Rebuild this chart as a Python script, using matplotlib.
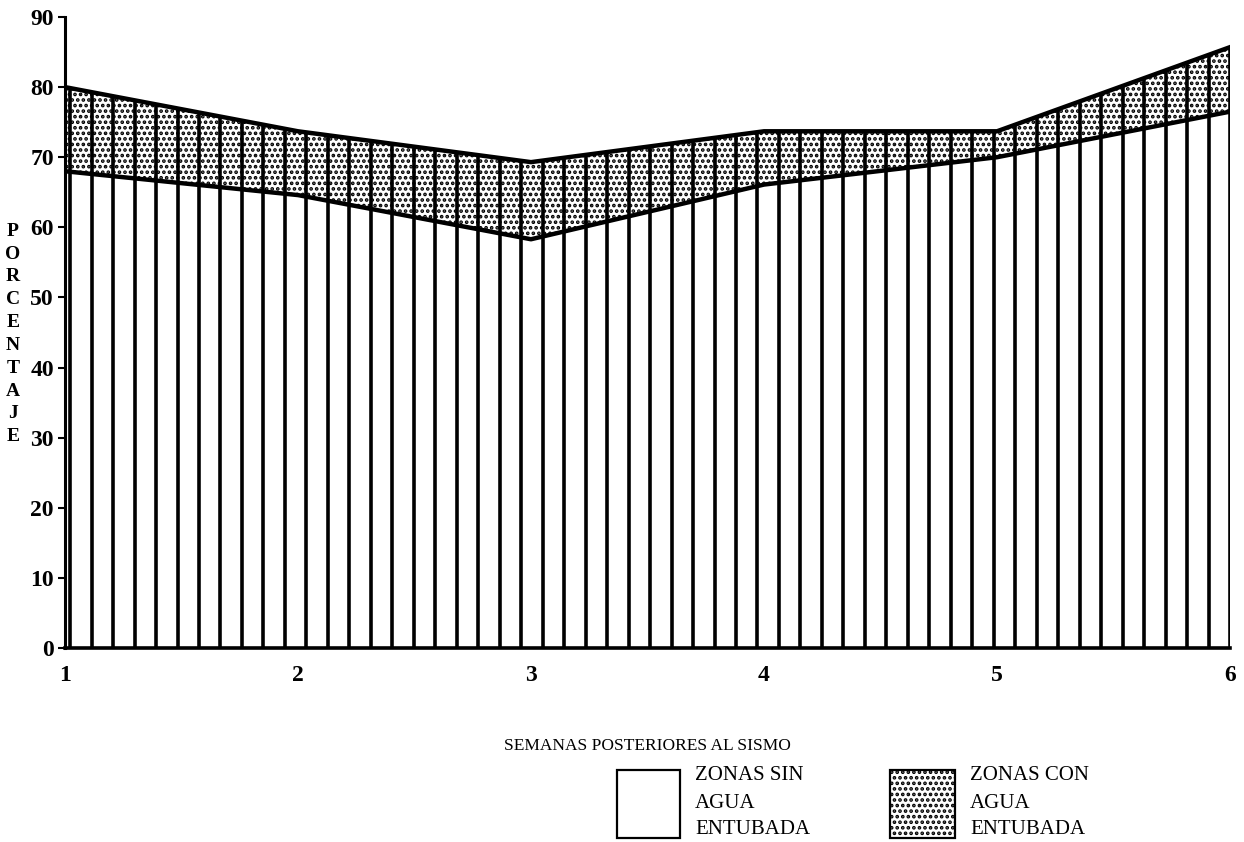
import numpy as np
import matplotlib
matplotlib.use("Agg")
import matplotlib.pyplot as plt
from matplotlib.patches import Rectangle

# ---- data ----
semanas = [1, 2, 3, 4, 5, 6]
zonas_sin_agua = [68.0, 64.6, 58.3, 66.1, 70.0, 76.5]
zonas_con_agua = [80.0, 73.7, 69.3, 73.7, 73.7, 85.7]
yticks = [0, 10, 20, 30, 40, 50, 60, 70, 80, 90]
xticks = [1, 2, 3, 4, 5, 6]
ylabel_text = "PORCENTAJE"
xlabel_text = "SEMANAS POSTERIORES AL SISMO"
leg_sin = ["ZONAS SIN", "AGUA", "ENTUBADA"]
leg_con = ["ZONAS CON", "AGUA", "ENTUBADA"]

plt.rcParams['font.family'] = ['Liberation Serif', 'DejaVu Serif']
plt.rcParams['hatch.linewidth'] = 1.8

W, H = 1244, 842
fig = plt.figure(figsize=(W / 100, H / 100), dpi=100)
ax = fig.add_axes([65 / W, 1 - 648 / H, (1230 - 65) / W, (648 - 17) / H])

# stippled band
ax.fill_between(semanas, zonas_sin_agua, zonas_con_agua, facecolor='white',
                edgecolor='black', hatch='...', linewidth=0, zorder=1)

# vertical ruling lines
xs = np.linspace(1.022, 6.0, 55)
tops = np.interp(xs, semanas, zonas_con_agua)
ax.vlines(xs, 0, tops, colors='black', linewidth=2.6, zorder=2)

# outline curves
ax.plot(semanas, zonas_sin_agua, color='black', linewidth=3.2, zorder=3)
ax.plot(semanas, zonas_con_agua, color='black', linewidth=3.2, zorder=3)

ax.set_xlim(1, 6)
ax.set_ylim(0, 90)
for s in ['top', 'right']:
    ax.spines[s].set_visible(False)
ax.spines['left'].set_linewidth(2.2)
ax.spines['bottom'].set_linewidth(2.6)

ax.set_yticks(yticks)
ax.set_yticklabels([str(v) for v in yticks], fontsize=17, fontweight='bold')
ax.set_xticks(xticks)
ax.set_xticklabels([str(v) for v in xticks], fontsize=17, fontweight='bold')
ax.tick_params(axis='y', direction='out', length=5, width=1.5, pad=3)
ax.tick_params(axis='x', length=0, pad=12)

# y label as stacked letters
fig.text(13 / W, 1 - 334 / H, "\n".join(ylabel_text), ha='center', va='center',
         fontsize=14, fontweight='bold', linespacing=1.45)

# x label
fig.text(647 / W, 1 - 746 / H, xlabel_text, ha='center', va='center', fontsize=12.5)

# legend
def legend_entry(x0, x1, hatch, xt, lines):
    r = Rectangle((x0 / W, 1 - 838 / H), (x1 - x0) / W, 68 / H,
                  transform=fig.transFigure, facecolor='white', edgecolor='black',
                  linewidth=1.6, hatch=hatch)
    fig.add_artist(r)
    for yy, t in zip([775, 803, 830], lines):
        fig.text(xt / W, 1 - yy / H, t, ha='left', va='center', fontsize=15)

legend_entry(617, 680, None, 695, leg_sin)
legend_entry(890, 955, '...', 970, leg_con)

fig.savefig("out.png", dpi=100)
